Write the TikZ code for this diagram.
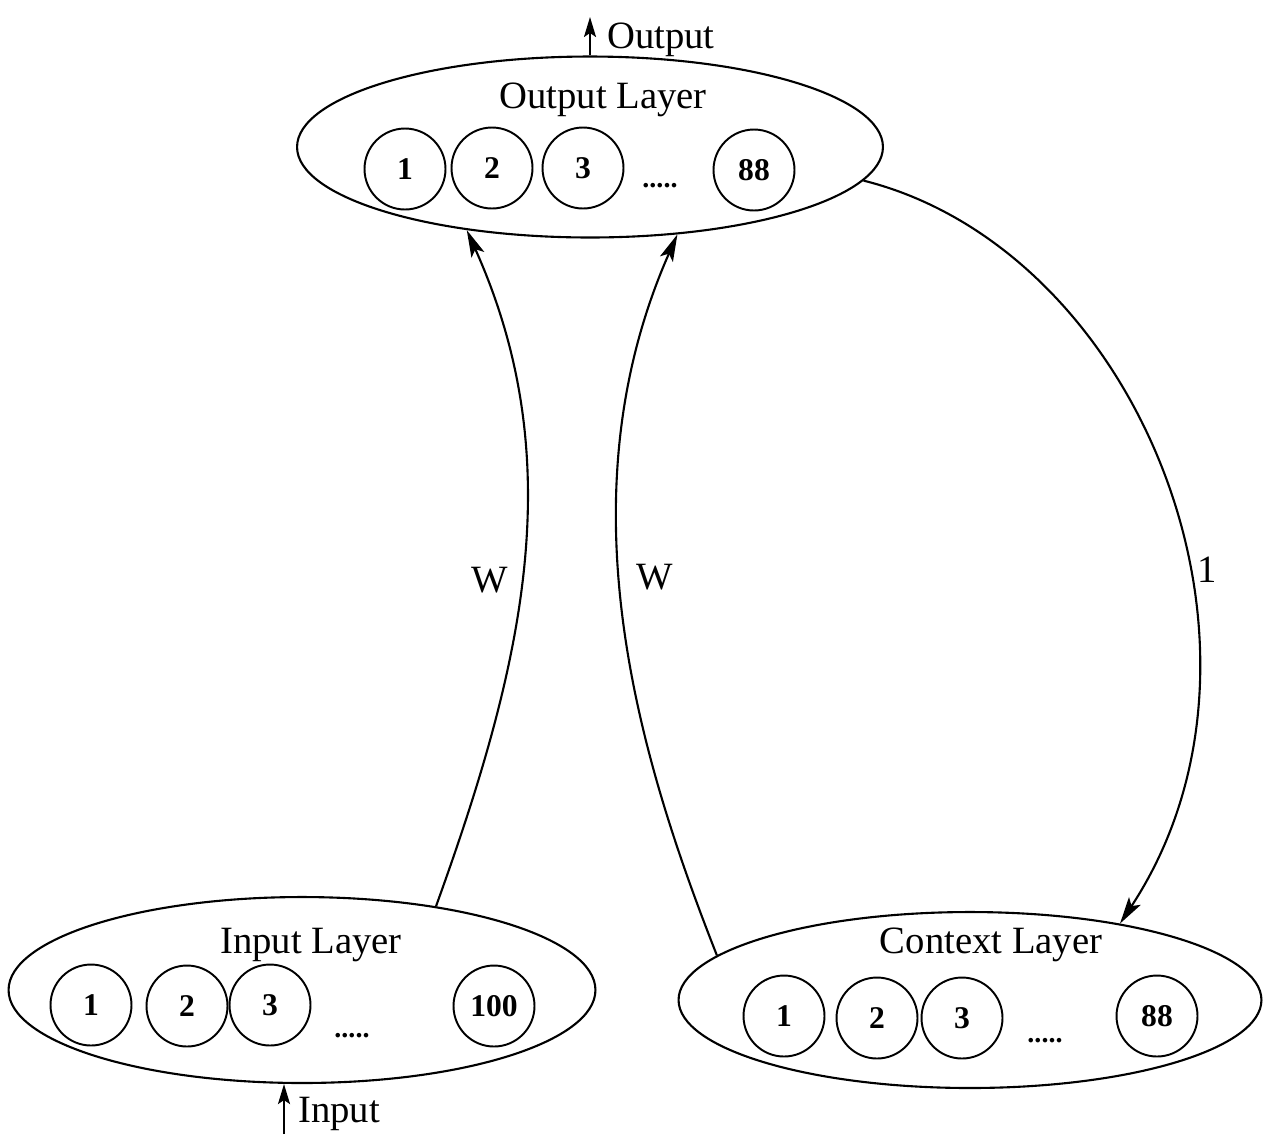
\documentclass[tikz,border=0pt]{standalone}
\usepackage{fontspec}
\setmainfont{Liberation Serif}
\usetikzlibrary{shapes.geometric,arrows.meta}

\begin{document}
\begin{tikzpicture}[x=0.02cm,y=-0.02cm,
        layer/.style={draw,ellipse,line width=1.2pt,inner sep=0pt},
        neuron/.style={draw,circle,line width=1.1pt,minimum size=1.62cm,inner sep=0pt,font=\fontsize{18}{20}\selectfont\bfseries},
        lbl/.style={font=\fontsize{22}{24}\selectfont},
        dots/.style={font=\fontsize{16}{18}\selectfont\bfseries},
        conn/.style={line width=1.2pt,-{Stealth[length=5.4mm,width=2.8mm,inset=1.2mm]}},
        io/.style={line width=1.2pt,-{Stealth[length=4mm,width=2.4mm,inset=0.8mm]}}]
        \useasboundingbox (0,0) rectangle (1267,1134);

        \node[layer,minimum width=11.72cm,minimum height=3.62cm] (outl) at (590,147) {};
        \node[lbl] (outt) at (603,100) {Output Layer};
        \node[neuron] (o1) at (405,169) {1};
        \node[neuron] (o2) at (492,168) {2};
        \node[neuron] (o3) at (583,168) {3};
        \node[dots] (od) at (660,186) {.....};
        \node[neuron] (o88) at (754,170) {88};

        \node[layer,minimum width=11.74cm,minimum height=3.72cm] (inl) at (302,990) {};
        \node[lbl] (int) at (311,945) {Input Layer};
        \node[neuron] (i1) at (91,1005) {1};
        \node[neuron] (i2) at (187,1006) {2};
        \node[neuron] (i3) at (270,1005) {3};
        \node[dots] (id) at (352,1036) {.....};
        \node[neuron] (i100) at (494,1006) {100};

        \node[layer,minimum width=11.66cm,minimum height=3.52cm] (ctx) at (970,1000) {};
        \node[lbl] (ctxt) at (991,945) {Context Layer};
        \node[neuron] (c1) at (784,1016) {1};
        \node[neuron] (c2) at (877,1018) {2};
        \node[neuron] (c3) at (962,1018) {3};
        \node[dots] (cd) at (1045,1041) {.....};
        \node[neuron] (c88) at (1157,1016) {88};

        \coordinate (outtip) at (590,17);
        \coordinate (inbase) at (284,1134);
        \draw[io] (outl.north) -- (outtip);
        \node[lbl] (outlab) at (661,40) {Output};
        \draw[io] (inbase) -- (inbase |- inl.south);
        \node[lbl] (inlab) at (339,1114) {Input};

        \draw[conn] (inl.32) .. controls (525,660) and (570,460) .. (outl.214);
        \node[lbl] (w1) at (490,580) {W};
        \draw[conn] (ctx.170) .. controls (640,760) and (560,500) .. (outl.-45);
        \node[lbl] (w2) at (655,577) {W};
        \draw[conn] (outl.-7) .. controls (1140,250) and (1300,650) .. (ctx.27);
        \node[lbl] (one) at (1207,570) {1};

    \end{tikzpicture}
\end{document}
